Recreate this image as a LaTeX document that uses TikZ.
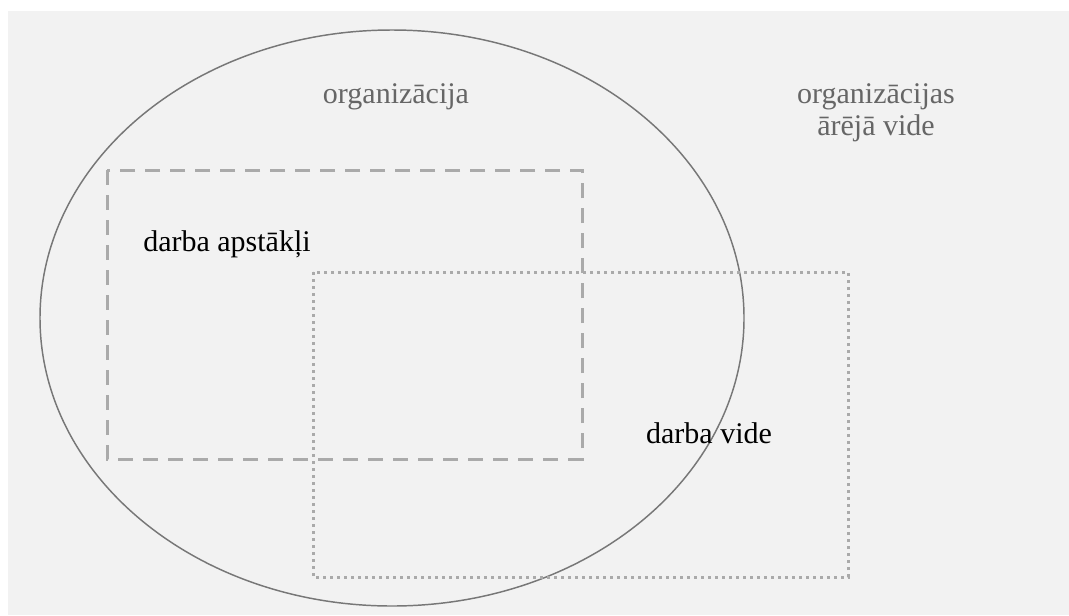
\documentclass[tikz,border=0pt]{standalone}
\usepackage{fontspec}
\setmainfont{Liberation Serif}
\newfontfamily\diagfont{Liberation Serif}
\usetikzlibrary{calc}

\definecolor{bggray}{HTML}{F2F2F2}
\definecolor{rimgray}{HTML}{777777}
\definecolor{boxgray}{HTML}{AAAAAA}
\definecolor{labelgray}{HTML}{666666}

\tikzset{
  lbl/.style={anchor=base, inner sep=0pt, font=\diagfont\fontsize{22.5}{25}\selectfont},
  outerlbl/.style={lbl, text=labelgray},
  apstakli/.style={draw=boxgray, line width=2.25pt, dash pattern=on 11.25pt off 7.5pt},
  videbox/.style={draw=boxgray, line width=2.25pt, dash pattern=on 2.25pt off 3pt}
}

\begin{document}
\begin{tikzpicture}[x=0.75pt, y=-0.75pt]
\useasboundingbox (0,0) rectangle (1069,615);
\fill[bggray] (8,11) rectangle (1069,615);

% organization
\draw[rimgray, line width=1.1pt] (392,318) ellipse [x radius=352, y radius=288];

% the two areas
\draw[apstakli] (107,170) rectangle (582,459);
\draw[videbox] (313,272) rectangle (848,577);

\node[outerlbl] (org) at (396,103) {organizācija};
\node[outerlbl, align=center] (arvide) at (876,135) {organizācijas\\[-1pt]ārējā vide};
\node[lbl] (apst) at (227,251) {darba apstākļi};
\node[lbl] (vide) at (709,443) {darba vide};

\end{tikzpicture}
\end{document}
